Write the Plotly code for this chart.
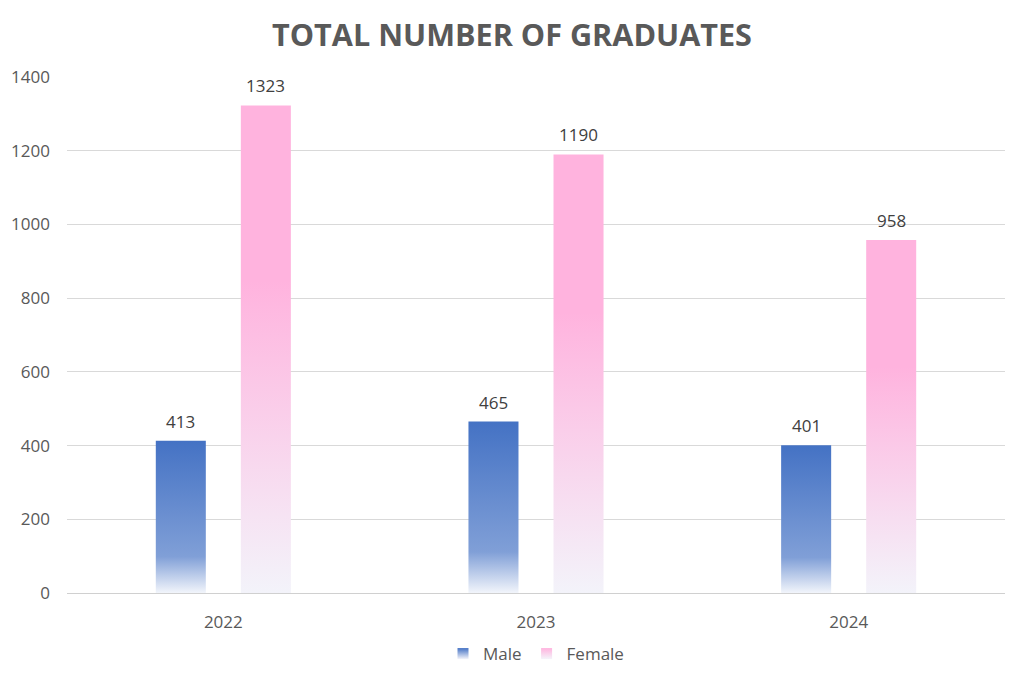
import plotly.graph_objects as go

# %%
years = ['2022', '2023', '2024']
male = [413, 465, 401]
female = [1323, 1190, 958]

y_ticks = [0, 200, 400, 600, 800, 1000, 1200, 1400]

series = [
    ('Male', male, -0.136, [[0, '#F2F5FB'], [0.24, '#809FD7'], [1, '#4472C4']], '#4472C4'),
    ('Female', female, 0.136, [[0, '#F3F3FA'], [0.64, '#FFB3DE'], [1, '#FFB3DE']], '#FFB3DE'),
]
bar_w = 0.16

# %%
fig = go.Figure()

for name, vals, off, cscale, top in series:
    for i, v in enumerate(vals):
        xc = i + off
        fig.add_trace(go.Scatter(
            x=[xc - bar_w / 2, xc + bar_w / 2, xc + bar_w / 2, xc - bar_w / 2, xc - bar_w / 2],
            y=[0, 0, v, v, 0],
            fill='toself', mode='lines', line=dict(width=0),
            fillgradient=dict(type='vertical', start=0, stop=v, colorscale=cscale),
            name=name, legendgroup=name, showlegend=False,
            hoverinfo='skip',
        ))
        fig.add_annotation(x=xc, y=v, text=str(v), showarrow=False,
                           yanchor='bottom', yshift=6,
                           font=dict(size=17, color='#404040'))
    # legend entry (square swatch)
    fig.add_trace(go.Scatter(
        x=[None], y=[None], mode='markers', name=name, legendgroup=name,
        marker=dict(symbol='square', size=11, color=top,
                    gradient=dict(type='vertical', color='#F4F4FA')),
    ))

# page body has an 8px margin, so keep the figure inside the window
fig.update_layout(
    width=1008, height=666,
    paper_bgcolor='white', plot_bgcolor='white',
    margin=dict(l=59, r=11, t=69, b=81),
    font=dict(family='Open Sans', color='#595959', size=17),
    title=dict(text='<b>TOTAL NUMBER OF GRADUATES</b>', x=0.5, xanchor='center',
               y=0.959, yanchor='middle', font=dict(size=30.6, color='#595959')),
    showlegend=True,
    # container ref so the legend does not push the bottom margin
    legend=dict(orientation='h', x=0.5, xanchor='center',
                yref='container', y=0.03, yanchor='middle',
                font=dict(size=17, color='#595959'), itemwidth=30),
)
fig.update_xaxes(range=[-0.5, 2.5], tickvals=[0, 1, 2], ticktext=years,
                 showgrid=False, zeroline=False, showline=True, linecolor='#D0D0D0',
                 ticks='', ticklabelstandoff=14, tickfont=dict(size=17), automargin=False)
fig.update_yaxes(range=[0, 1400], tickvals=y_ticks, showgrid=True, gridcolor='#D9D9D9',
                 zeroline=False, showline=False, ticks='', ticklabelstandoff=16,
                 tickfont=dict(size=17), automargin=False)

fig.write_html("out.html")
